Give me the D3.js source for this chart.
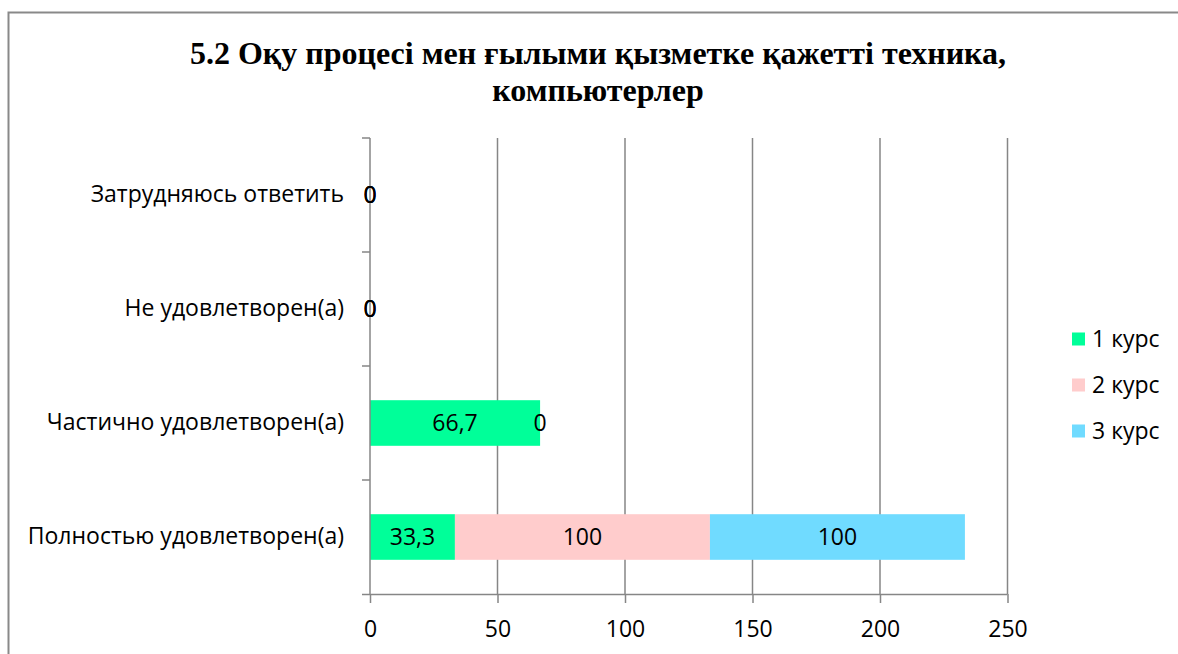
<!DOCTYPE html>
<html>
<head>
<meta charset="utf-8">
<script src="https://cdn.jsdelivr.net/npm/d3@7"></script>
<style>
  html, body { margin: 0; padding: 0; background: #fff; }
  svg { display: block; }
</style>
</head>
<body>
<svg id="chart" width="1178" height="654"></svg>
<script>
const titleLines = ["5.2 Оқу процесі мен ғылыми қызметке қажетті техника,", "компьютерлер"];
const categories = ["Затрудняюсь ответить", "Не удовлетворен(а)", "Частично удовлетворен(а)", "Полностью удовлетворен(а)"];
const seriesNames = ["1 курс", "2 курс", "3 курс"];
const kurs1 = [0, 0, 66.7, 33.3];
const kurs2 = [0, 0, 0, 100];
const kurs3 = [0, 0, null, 100];
const colors = ["#00FF99", "#FFCCCC", "#70DBFF"];
const xTicks = [0, 50, 100, 150, 200, 250];

const seriesValues = [kurs1, kurs2, kurs3];
const svg = d3.select("#chart");
const labelFont = "'Open Sans', 'Noto Sans', sans-serif";
const fs = 23;

// chart border
svg.append("rect").attr("x", 8.5).attr("y", 12.5).attr("width", 1200).attr("height", 700)
  .attr("fill", "none").attr("stroke", "#898989").attr("stroke-width", 2);

// title
svg.append("g").selectAll("text").data(titleLines).join("text")
  .attr("x", 598).attr("y", (d, i) => 64 + i * 37)
  .attr("text-anchor", "middle")
  .attr("font-family", "'Liberation Serif', 'Times New Roman', serif")
  .attr("font-weight", "bold").attr("font-size", 32).attr("fill", "#000")
  .text(d => d);

const x = d3.scaleLinear().domain([0, 250]).range([370, 1007.5]);
const y = d3.scaleBand().domain(categories).range([138, 594]).paddingInner(0.6).paddingOuter(0.3);
const yOuter = d3.scaleBand().domain(categories).range([138, 594]);

// gridlines
svg.append("g").selectAll("line").data(xTicks.filter(t => t > 0)).join("line")
  .attr("x1", d => x(d)).attr("x2", d => x(d)).attr("y1", 138).attr("y2", 594)
  .attr("stroke", "#868686").attr("stroke-width", 1.5);

// stacked bars
const rows = categories.map((c, i) => {
  const o = { cat: c };
  seriesNames.forEach((s, j) => o[s] = seriesValues[j][i]);
  return o;
});
const stack = d3.stack().keys(seriesNames).value((d, k) => d[k] == null ? 0 : d[k]);
const stacked = stack(rows);

const barG = svg.append("g");
stacked.forEach((layer, j) => {
  barG.append("g").attr("fill", colors[j]).selectAll("rect").data(layer).join("rect")
    .attr("x", d => x(d[0])).attr("width", d => x(d[1]) - x(d[0]))
    .attr("y", d => y(d.data.cat)).attr("height", y.bandwidth());
});

// axes
const xAxis = d3.axisBottom(x).tickValues(xTicks).tickSize(9).tickPadding(18)
  .tickFormat(d => String(d));
const gx = svg.append("g").attr("transform", "translate(0,594)").call(xAxis);
gx.select(".domain").attr("d", `M362,0.5H${x(250)}`).attr("stroke", "#868686").attr("stroke-width", 1.5);
gx.selectAll(".tick line").attr("stroke", "#868686").attr("stroke-width", 1.5).attr("y1", 0);
gx.selectAll(".tick text").attr("font-family", labelFont).attr("font-size", fs).attr("fill", "#000");

const yAxis = d3.axisLeft(yOuter).tickSize(0).tickPadding(26);
const gy = svg.append("g").attr("transform", "translate(370,0)").call(yAxis);
gy.select(".domain").attr("stroke", "#868686").attr("stroke-width", 1.5).attr("d", "M0,138V594");
gy.selectAll(".tick text").attr("font-family", labelFont).attr("font-size", fs).attr("fill", "#000");
// category boundary ticks
svg.append("g").selectAll("line")
  .data(categories.map(c => yOuter(c)))
  .join("line")
  .attr("x1", 362).attr("x2", 370).attr("y1", d => d).attr("y2", d => d)
  .attr("stroke", "#868686").attr("stroke-width", 1.5);

// data labels
const labelG = svg.append("g");
stacked.forEach((layer, j) => {
  labelG.append("g").selectAll("text")
    .data(layer.filter(d => d.data[seriesNames[j]] != null))
    .join("text")
    .attr("x", d => x((d[0] + d[1]) / 2))
    .attr("y", d => y(d.data.cat) + y.bandwidth() / 2)
    .attr("dy", "0.35em").attr("text-anchor", "middle")
    .attr("font-family", labelFont).attr("font-size", fs).attr("fill", "#000")
    .text(d => String(d.data[seriesNames[j]]).replace(".", ","));
});

// legend
const legend = svg.append("g").selectAll("g").data(seriesNames).join("g")
  .attr("transform", (d, i) => `translate(1072,${339 + i * 46})`);
legend.append("rect").attr("x", 0).attr("y", -6.5).attr("width", 13).attr("height", 13)
  .attr("fill", (d, i) => colors[i]);
legend.append("text").attr("x", 20).attr("y", 0).attr("dy", "0.35em")
  .attr("font-family", labelFont).attr("font-size", fs).attr("fill", "#000")
  .text(d => d);
</script>
</body>
</html>
